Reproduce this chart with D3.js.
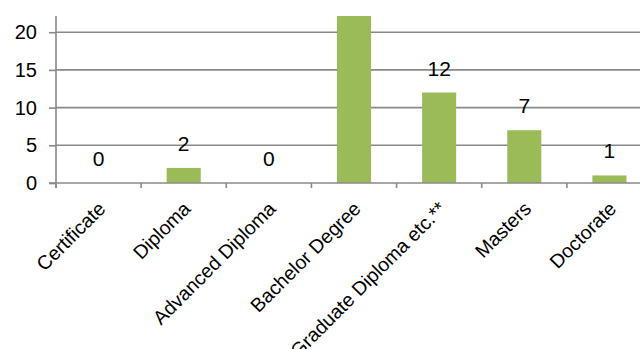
<!DOCTYPE html>
<html>
<head>
<meta charset="utf-8">
<script src="https://cdn.jsdelivr.net/npm/d3@7"></script>
<style>
  body { margin: 0; background: #fff; }
  text { font-family: "Liberation Sans", Arial, sans-serif; fill: #000; }
</style>
</head>
<body>
<div class="bar-chart"></div>
<script>
const FRAME_HEIGHT = 349;
const FRAME_WIDTH = 640;
const MARGINS = {left: 56, right: -12, top: 16, bottom: 166};

// chart data
const CATEGORIES = ["Certificate", "Diploma", "Advanced Diploma", "Bachelor Degree",
    "Graduate Diploma etc.**", "Masters", "Doctorate"];
const VALUES = [0, 2, 0, 23, 12, 7, 1];
const Y_TICKS = [0, 5, 10, 15, 20];
const Y_MAX = 22.15;

const PLOT_HEIGHT = FRAME_HEIGHT - MARGINS.top - MARGINS.bottom;
const PLOT_WIDTH = FRAME_WIDTH - MARGINS.left - MARGINS.right;

const FRAME = d3.select(".bar-chart")
    .append("svg")
    .attr("height", FRAME_HEIGHT)
    .attr("width", FRAME_WIDTH);

const xScale = d3.scaleBand()
    .domain(CATEGORIES)
    .range([0, PLOT_WIDTH])
    .paddingInner(0.6)
    .paddingOuter(0.3);

const yScale = d3.scaleLinear()
    .domain([0, Y_MAX])
    .range([PLOT_HEIGHT, 0]);

const G = FRAME.append("g")
    .attr("transform", "translate(" + MARGINS.left + "," + MARGINS.top + ")");

FRAME.append("clipPath")
    .attr("id", "plot-clip")
    .append("rect")
    .attr("x", 0).attr("y", 0)
    .attr("width", PLOT_WIDTH).attr("height", PLOT_HEIGHT);

// table built from the arrays
const DATA = CATEGORIES.map((c, i) => ({category: c, value: VALUES[i]}));

// gridlines
G.append("g")
    .selectAll("line")
    .data(Y_TICKS.filter(d => d > 0))
    .enter().append("line")
    .attr("x1", 0)
    .attr("x2", PLOT_WIDTH)
    .attr("y1", d => yScale(d))
    .attr("y2", d => yScale(d))
    .attr("stroke", "#8a8a8a")
    .attr("stroke-width", 1.6);

// bars
G.append("g")
    .attr("clip-path", "url(#plot-clip)")
    .selectAll("rect")
    .data(DATA)
    .enter().append("rect")
    .attr("x", d => xScale(d.category))
    .attr("y", d => yScale(d.value))
    .attr("width", xScale.bandwidth())
    .attr("height", d => PLOT_HEIGHT - yScale(d.value))
    .attr("fill", "#9bbb59");

// data labels (hidden when outside the plot, like the original)
G.append("g")
    .selectAll("text")
    .data(DATA.filter(d => d.value <= Y_MAX))
    .enter().append("text")
    .attr("x", d => xScale(d.category) + xScale.bandwidth() / 2)
    .attr("y", d => yScale(d.value) - 17)
    .attr("text-anchor", "middle")
    .attr("font-size", "21px")
    .text(d => d.value);

// y axis
const yAxis = G.append("g")
    .call(d3.axisLeft(yScale).tickValues(Y_TICKS).tickSize(7).tickPadding(12).tickFormat(d3.format("d")));
yAxis.select(".domain").remove();
yAxis.selectAll("line").attr("stroke", "#8a8a8a").attr("stroke-width", 1.6);
yAxis.selectAll("text").attr("font-size", "20px").attr("font-family", "Liberation Sans, Arial, sans-serif");
G.append("line")
    .attr("x1", 0).attr("x2", 0)
    .attr("y1", 0).attr("y2", PLOT_HEIGHT + 5)
    .attr("stroke", "#8a8a8a")
    .attr("stroke-width", 1.6);

// x axis
const STEP = xScale.step();
G.append("line")
    .attr("x1", -7).attr("x2", PLOT_WIDTH)
    .attr("y1", PLOT_HEIGHT).attr("y2", PLOT_HEIGHT)
    .attr("stroke", "#8a8a8a")
    .attr("stroke-width", 1.6);
G.append("g")
    .selectAll("line")
    .data(d3.range(CATEGORIES.length + 1))
    .enter().append("line")
    .attr("x1", i => i * STEP)
    .attr("x2", i => i * STEP)
    .attr("y1", PLOT_HEIGHT)
    .attr("y2", PLOT_HEIGHT + 5)
    .attr("stroke", "#8a8a8a")
    .attr("stroke-width", 1.6);

G.append("g")
    .selectAll("text")
    .data(CATEGORIES)
    .enter().append("text")
    .attr("transform", d => "translate(" + (xScale(d) + xScale.bandwidth() / 2 + 8) + "," +
        (PLOT_HEIGHT + 27) + ") rotate(-45)")
    .attr("text-anchor", "end")
    .attr("font-size", "19.5px")
    .text(d => d);
</script>
</body>
</html>
